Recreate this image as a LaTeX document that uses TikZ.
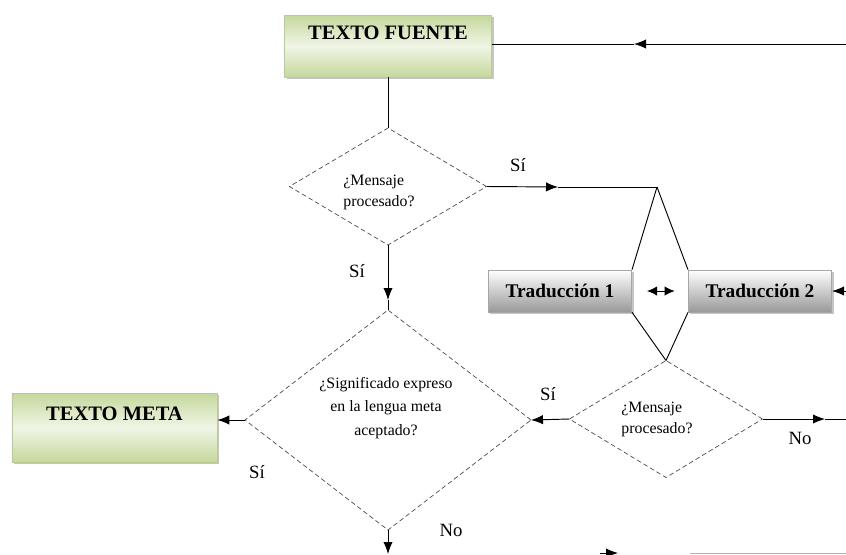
\documentclass[tikz,border=0pt]{standalone}
\usepackage{fontspec}
\setmainfont{Liberation Serif}
\usepackage{xcolor}
\usepackage{tikz}
\usetikzlibrary{arrows.meta,shapes.geometric,shadows}

\definecolor{boxgreen}{HTML}{C5D89C}
\definecolor{boxgreenlt}{HTML}{F0F5E6}
\definecolor{boxgreenbd}{HTML}{B9CB93}

\begin{document}
\begin{tikzpicture}[x=0.03cm, y=-0.03cm,
    line/.style={line width=0.8pt},
    arr/.style={line width=0.8pt, -{Latex[length=3.6mm, width=2.8mm]}},
    greenbox/.style={draw=boxgreenbd, line width=0.6pt, top color=boxgreen,
      bottom color=boxgreen, middle color=boxgreenlt,
      drop shadow={shadow xshift=0.06cm, shadow yshift=-0.06cm, opacity=0.45, fill=gray},
      font=\fontsize{17.5}{20}\selectfont\bfseries, text depth=0.8cm},
    graybox/.style={draw=gray!70, line width=0.6pt, top color=white, bottom color=gray!80,
      drop shadow={shadow xshift=0.06cm, shadow yshift=-0.06cm, opacity=0.45, fill=gray},
      minimum width=4.3cm, minimum height=1.26cm, font=\fontsize{16.5}{19}\selectfont\bfseries},
    decision/.style={diamond, draw=black!70, dash pattern=on 4pt off 2.5pt,
      line width=0.6pt, inner sep=0pt, outer sep=0pt},
    qtext/.style={align=left, font=\fontsize{13.5}{18}\selectfont},
    lbl/.style={font=\fontsize{16}{18}\selectfont}]
    \useasboundingbox (0,0) rectangle (846,554);

    % boxes
    \node[greenbox, minimum width=6.21cm, minimum height=1.86cm] (fuente) at (388,46) {TEXTO FUENTE};
    \node[greenbox, minimum width=6.15cm, minimum height=2.07cm] (meta) at (114.5,427.5) {TEXTO META};
    \node[graybox] (trad1) at (560,291) {Traducción 1};
    \node[graybox] (trad2) at (760,291) {Traducción 2};

    % decisions
    \node[decision, minimum width=5.91cm, minimum height=3.51cm] (d1) at (388,186.5) {};
    \node[qtext] (d1t) at (379,192) {¿Mensaje\\procesado?};
    \node[decision, minimum width=8.58cm, minimum height=6.6cm] (d2) at (388,420) {};
    \node[qtext, align=center, font=\fontsize{13.5}{20}\selectfont] (d2t) at (386,408)
      {¿Significado expreso\\en la lengua meta\\aceptado?};
    \node[decision, minimum width=5.79cm, minimum height=3.51cm] (d3) at (666,419) {};
    \node[qtext] (d3t) at (657,419) {¿Mensaje\\procesado?};

    \coordinate (inT) at (846,44);
    \coordinate (tarr) at (634,44);
    \coordinate (sia) at (558,187);
    \coordinate (apex) at (657,187);
    \coordinate (sib) at (388,300);
    \coordinate (inT2) at (846,291);
    \coordinate (noa) at (825,419);
    \coordinate (outR) at (846,419);
    \coordinate (nob) at (388,554);
    \coordinate (bota) at (600,553);
    \coordinate (botb) at (618,553);
    \coordinate (botc) at (690,553);
    \coordinate (botd) at (846,553);

    % connectors
    \draw[line] (fuente.south) -- (d1.north);
    \draw[arr] (inT) -- (tarr);
    \draw[line] (tarr) -- (fuente.east |- tarr);
    \draw[arr] (d1.east) -- (sia);
    \draw[line] (sia) -- (apex);
    \draw[line] (apex) -- (trad1.north east);
    \draw[line] (apex) -- (trad2.north west);
    \draw[line] (trad1.south east) -- (d3.north);
    \draw[line] (trad2.south west) -- (d3.north);
    \draw[line, {Latex[length=3mm, width=2.8mm]}-{Latex[length=3mm, width=2.8mm]},
      shorten <=0.45cm, shorten >=0.4cm] (trad1.east) -- (trad2.west);
    \draw[arr] (inT2) -- (trad2.east);
    \draw[arr] (d1.south) -- (sib);
    \draw[line] (sib) -- (d2.north);
    \draw[arr] (d3.west) -- (d2.east);
    \draw[arr] (d3.east) -- (noa);
    \draw[line] (noa) -- (outR);
    \draw[arr] (d2.west) -- (meta.east |- d2.west);
    \draw[arr] (d2.south) -- (nob);
    \draw[arr] (bota) -- (botb);
    \draw[line, gray!60] (botc) -- (botd);

    % labels
    \node[lbl] (sione) at (518,165) {Sí};
    \node[lbl] (sitwo) at (357,271) {Sí};
    \node[lbl] (sithree) at (548,394) {Sí};
    \node[lbl] (nothree) at (800,438) {No};
    \node[lbl] (sifour) at (257,472) {Sí};
    \node[lbl] (nofour) at (451,530) {No};
\end{tikzpicture}
\end{document}
